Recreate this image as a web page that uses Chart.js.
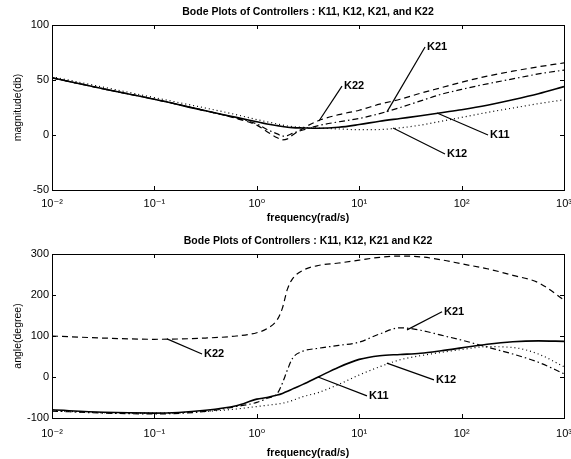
<!DOCTYPE html>
<html>
<head>
<meta charset="utf-8">
<script src="https://cdn.jsdelivr.net/npm/chart.js@4.4.1/dist/chart.umd.min.js"></script>
<style>
  html, body { margin: 0; padding: 0; background: #fff; }
  #wrap { position: relative; width: 571px; height: 459px; }
  #magWrap { position: absolute; left: 0; top: 0; width: 571px; height: 229px; }
  #phaseWrap { position: absolute; left: 0; top: 229px; width: 571px; height: 230px; }
</style>
</head>
<body>
<div id="wrap">
  <div id="magWrap"><canvas id="magChart"></canvas></div>
  <div id="phaseWrap"><canvas id="phaseChart"></canvas></div>
</div>
<script>
// frequency points (rad/s)
const freq = [0.01, 0.0316, 0.1, 0.316, 0.631, 1, 1.259, 1.585, 1.778, 1.995, 2.239, 2.818,
              3.981, 6.31, 10, 15.85, 25.12, 39.81, 63.1, 100, 177.8, 316.2, 562.3, 1000];

// magnitude (dB)
const magK11 = [52, 42, 32.5, 22, 16, 12, 10, 8.5, 7.8, 7.1, 6.7, 6.4, 6.1, 7, 9.5, 12.5, 15, 17.5, 20.3, 23, 27, 32, 37.5, 44];
const magK12 = [53, 43.5, 34, 24.5, 18.5, 14, 12, 10, 9, 8.2, 7.6, 7, 6.3, 5.5, 4.8, 5, 6.5, 9, 12.5, 16, 20.5, 24.5, 28.5, 32];
const magK21 = [52, 42, 32.5, 22, 15.5, 10, 5, 1, -1, -0.5, 1.5, 4.5, 8.5, 12, 15, 19.5, 25, 31, 37, 41.5, 46.5, 51, 55.5, 59];
const magK22 = [52, 42, 32.5, 22, 15, 9, 3, -2.5, -4.5, -3.5, 0, 6, 13, 18.5, 22.5, 28, 32.5, 38, 43, 48, 53.5, 58, 62, 65.5];

// phase (degree)
const phK11 = [-80, -86, -88, -81, -70, -54, -50, -44, -40, -35, -29, -18, 0, 24, 43, 52, 55, 58, 64, 71, 80, 86, 88, 87];
const phK12 = [-82, -87, -88, -84, -78, -72, -69, -66, -64, -61, -57, -48, -38, -18, 5, 25, 42, 52, 60, 67, 74, 72, 56, 25];
const phK21 = [-83, -88, -90, -84, -72, -62, -52, -40, -15, 18, 46, 63, 70, 77, 85, 105, 120, 114, 102, 90, 73, 56, 36, 8];
const phK22 = [100, 95, 92, 95, 100, 108, 118, 140, 168, 215, 240, 260, 272, 278, 285, 292, 295, 293, 286, 276, 264, 248, 230, 188];

// axis ticks
const xTickValues = [0.01, 0.1, 1, 10, 100, 1000];
const xTickLabels = ['10\u207B\u00B2', '10\u207B\u00B9', '10\u2070', '10\u00B9', '10\u00B2', '10\u00B3'];

// curve labels: name, text anchor (log10 freq, value), leader end on curve (log10 freq, value)
const magLabels = [
    ['K22', 0.832, 44.5, 0.607, 12.7],
    ['K21', 1.643, 80, 1.271, 21],
    ['K11', 2.258, 0, 1.76, 20],
    ['K12', 1.838, -17.3, 1.33, 6.4]
];
const phaseLabels = [
    ['K22', -0.535, 56, -0.877, 93],
    ['K21', 1.809, 159, 1.467, 115],
    ['K12', 1.73, -7, 1.27, 34],
    ['K11', 1.076, -46, 0.598, 0]
];

const FONT = "'Liberation Sans', 'DejaVu Sans', sans-serif";

// box frame, inward tick marks and the curve labels
const boxPlugin = {
    id: 'box',
    afterDatasetsDraw(chart, args, opts) {
        const { ctx, chartArea: a, scales } = chart;
        ctx.save();
        ctx.strokeStyle = '#000';
        ctx.lineWidth = 1;
        ctx.strokeRect(a.left + 0.5, a.top + 0.5, a.right - a.left, a.bottom - a.top);
        ctx.beginPath();
        scales.x.ticks.forEach(t => {
            const px = Math.round(scales.x.getPixelForValue(t.value)) + 0.5;
            ctx.moveTo(px, a.bottom); ctx.lineTo(px, a.bottom - 4);
            ctx.moveTo(px, a.top); ctx.lineTo(px, a.top + 4);
        });
        scales.y.ticks.forEach(t => {
            const py = Math.round(scales.y.getPixelForValue(t.value)) + 0.5;
            ctx.moveTo(a.left, py); ctx.lineTo(a.left + 4, py);
            ctx.moveTo(a.right, py); ctx.lineTo(a.right - 4, py);
        });
        ctx.stroke();

        // labels with leader lines
        ctx.font = 'bold 11px ' + FONT;
        ctx.fillStyle = '#000';
        ctx.textBaseline = 'middle';
        ctx.textAlign = 'left';
        (opts.labels || []).forEach(([name, tx, ty, ex, ey]) => {
            const x0 = scales.x.getPixelForValue(Math.pow(10, tx));
            const y0 = scales.y.getPixelForValue(ty);
            const x1 = scales.x.getPixelForValue(Math.pow(10, ex));
            const y1 = scales.y.getPixelForValue(ey);
            ctx.beginPath();
            ctx.lineWidth = 1.2;
            ctx.moveTo(x0, y0);
            ctx.lineTo(x1, y1);
            ctx.stroke();
            ctx.fillText(name, x0 + 2, y0);
        });
        ctx.restore();
    }
};

function series(label, vals, dash, width) {
    return {
        label: label,
        data: freq.map((f, i) => ({ x: f, y: vals[i] })),
        borderColor: '#000',
        borderWidth: width,
        borderDash: dash,
        pointRadius: 0,
        fill: false,
        cubicInterpolationMode: 'monotone'
    };
}

function makeChart(canvasId, title, yTitle, yMin, yMax, yStep, datasets, labels, xHeight, tickPad, xTitlePad) {
    const ctx = document.getElementById(canvasId);
    return new Chart(ctx, {
        type: 'line',
        data: { datasets: datasets },
        options: {
            responsive: true,
            maintainAspectRatio: false,
            animation: false,
            layout: { padding: { left: 0, right: 7, top: 0, bottom: 0 } },
            plugins: {
                legend: { display: false },
                tooltip: { enabled: false },
                title: {
                    display: true,
                    text: title,
                    fullSize: false,
                    color: '#000',
                    font: { family: FONT, size: 10.5, weight: 'bold' },
                    padding: { top: 6, bottom: 6.4 }
                },
                box: { labels: labels }
            },
            scales: {
                x: {
                    type: 'logarithmic',
                    min: 0.01,
                    max: 1000,
                    afterBuildTicks: s => { s.ticks = xTickValues.map(v => ({ value: v })); },
                    // fixed height, and let the last label run off the edge like the original
                    afterFit: s => { s.height = xHeight; s.paddingLeft = 0; s.paddingRight = 0; },
                    border: { display: false },
                    grid: { display: false, drawTicks: false },
                    ticks: {
                        color: '#000',
                        padding: tickPad,
                        maxRotation: 0,
                        autoSkip: false,
                        font: { family: FONT, size: 11 },
                        callback: (v, i) => xTickLabels[i]
                    },
                    title: {
                        display: true,
                        text: 'frequency(rad/s)',
                        color: '#000',
                        font: { family: FONT, size: 10.5, weight: 'bold' },
                        padding: { top: 0, bottom: xTitlePad }
                    }
                },
                y: {
                    min: yMin,
                    max: yMax,
                    afterFit: s => { s.width = 52; s.paddingTop = 0; s.paddingBottom = 0; },
                    border: { display: false },
                    grid: { display: false, drawTicks: false },
                    ticks: {
                        color: '#000',
                        stepSize: yStep,
                        padding: 3,
                        font: { family: FONT, size: 11 }
                    },
                    title: {
                        display: true,
                        text: yTitle,
                        color: '#000',
                        font: { family: FONT, size: 10.5 },
                        padding: { top: 12, bottom: 0 }
                    }
                }
            }
        },
        plugins: [boxPlugin]
    });
}

makeChart('magChart', 'Bode Plots of Controllers : K11, K12, K21, and K22', 'magnitude(db)', -50, 100, 50, [
    series('K11', magK11, [], 1.6),
    series('K12', magK12, [1, 3], 1.2),
    series('K21', magK21, [6, 3, 1.5, 3], 1.2),
    series('K22', magK22, [6, 4], 1.2)
], magLabels, 39, 7, 5);

makeChart('phaseChart', 'Bode Plots of Controllers : K11, K12, K21 and K22', 'angle(degree)', -100, 300, 100, [
    series('K11', phK11, [], 1.6),
    series('K12', phK12, [1, 3], 1.2),
    series('K21', phK21, [6, 3, 1.5, 3], 1.2),
    series('K22', phK22, [6, 4], 1.2)
], phaseLabels, 41, 9, 0);
</script>
</body>
</html>
